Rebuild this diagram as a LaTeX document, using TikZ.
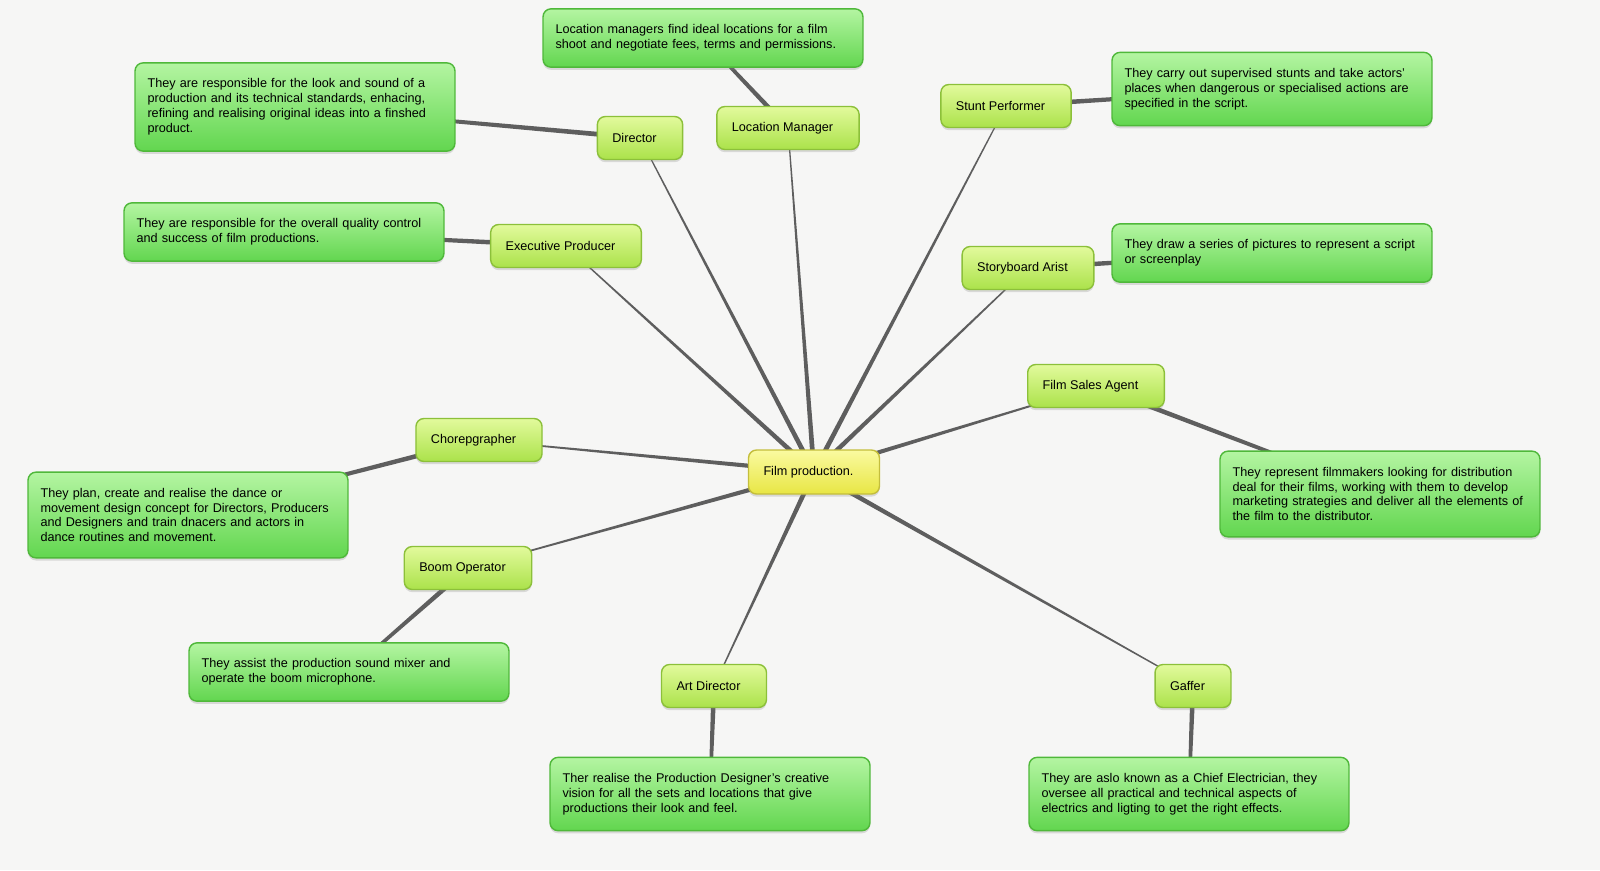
\documentclass[tikz,border=0pt]{standalone}
\usepackage{fontspec}
\setmainfont{Liberation Sans}
\usetikzlibrary{calc,backgrounds,shadows}
\definecolor{paper}{HTML}{F6F6F5}
\definecolor{linkgray}{HTML}{5E5E5E}
\definecolor{descborder}{HTML}{4FB83A}
\definecolor{desctop}{HTML}{B4F5A2}
\definecolor{descbottom}{HTML}{62D64F}
\definecolor{roleborder}{HTML}{8CC03A}
\definecolor{roletop}{HTML}{E2FA9C}
\definecolor{rolebottom}{HTML}{ABE24A}
\definecolor{hubborder}{HTML}{C4BE3C}
\definecolor{hubtop}{HTML}{FAFAA0}
\definecolor{hubbottom}{HTML}{E8E644}
\newcommand{\taperlink}[4]{\fill[linkgray] ($(#1)!#3!90:(#2)$) -- ($(#2)!#4!-90:(#1)$) -- ($(#2)!#4!90:(#1)$) -- ($(#1)!#3!-90:(#2)$) -- cycle;}

\begin{document}
\begin{tikzpicture}[x=0.02cm,y=-0.02cm,
  font=\fontsize{7.2}{8.5}\selectfont,
  box/.style={rounded corners=0.16cm,line width=0.8pt,inner xsep=0.3cm,
    drop shadow={opacity=0.25,shadow xshift=0pt,shadow yshift=-1.5pt}},
  role/.style={box,draw=roleborder,top color=roletop,bottom color=rolebottom,
    minimum height=0.86cm,execute at end node=\hspace*{0.22cm}},
  hub/.style={box,draw=hubborder,top color=hubtop,bottom color=hubbottom,
    minimum height=0.88cm,execute at end node=\hspace*{0.22cm}},
  desc/.style={box,draw=descborder,top color=desctop,bottom color=descbottom,
    text width=5.9cm,inner xsep=0.25cm,align=left,inner ysep=9pt}]
\useasboundingbox (0,0) rectangle (1600,870);

\node[hub] (film) at (814,472) {Film production.};

\node[role] (director) at (640,138) {Director};
\node[role] (locman) at (788,128) {Location Manager};
\node[role] (stunt) at (1006,106) {Stunt Performer};
\node[role] (exec) at (566,246) {Executive Producer};
\node[role] (story) at (1028,268) {Storyboard Arist};
\node[role] (sales) at (1096,386) {Film Sales Agent};
\node[role] (choreo) at (479,440) {Chorepgrapher};
\node[role] (boom) at (468,568) {Boom Operator};
\node[role] (art) at (714,686) {Art Director};
\node[role] (gaffer) at (1193,686) {Gaffer};

\node[desc] (locdesc) at (703,38) {Location managers find ideal locations for a film\\shoot and negotiate fees, terms and permissions.};
\node[desc] (dirdesc) at (295,107) {They are responsible for the look and sound of a\\production and its technical standards, enhacing,\\refining and realising original ideas into a finshed\\product.};
\node[desc] (stuntdesc) at (1272,89) {They carry out supervised stunts and take actors'\\places when dangerous or specialised actions are\\specified in the script.};
\node[desc] (execdesc) at (284,232) {They are responsible for the overall quality control\\and success of film productions.};
\node[desc] (storydesc) at (1272,253) {They draw a series of pictures to represent a script\\or screenplay};
\node[desc] (salesdesc) at (1380,494) {They represent filmmakers looking for distribution\\deal for their films, working with them to develop\\marketing strategies and deliver all the elements of\\the film to the distributor.};
\node[desc] (choreodesc) at (188,515) {They plan, create and realise the dance or\\movement design concept for Directors, Producers\\and Designers and train dnacers and actors in\\dance routines and movement.};
\node[desc] (boomdesc) at (349,672) {They assist the production sound mixer and\\operate the boom microphone.};
\node[desc] (artdesc) at (710,794) {Ther realise the Production Designer's creative\\vision for all the sets and locations that give\\productions their look and feel.};
\node[desc] (gafferdesc) at (1189,794) {They are aslo known as a Chief Electrician, they\\oversee all practical and technical aspects of\\electrics and ligting to get the right effects.};

\begin{scope}[on background layer]
\fill[paper] (0,0) rectangle (1600,870);
\foreach \r in {director,locman,stunt,exec,story,sales,choreo,boom,art,gaffer}
  {\taperlink{film}{\r}{0.05cm}{0.01cm}}
\foreach \r/\d in {director/dirdesc,locman/locdesc,stunt/stuntdesc,exec/execdesc,story/storydesc,sales/salesdesc,choreo/choreodesc,boom/boomdesc,art/artdesc,gaffer/gafferdesc}
  {\taperlink{\r}{\d}{0.05cm}{0.03cm}}
\end{scope}
\end{tikzpicture}
\end{document}
